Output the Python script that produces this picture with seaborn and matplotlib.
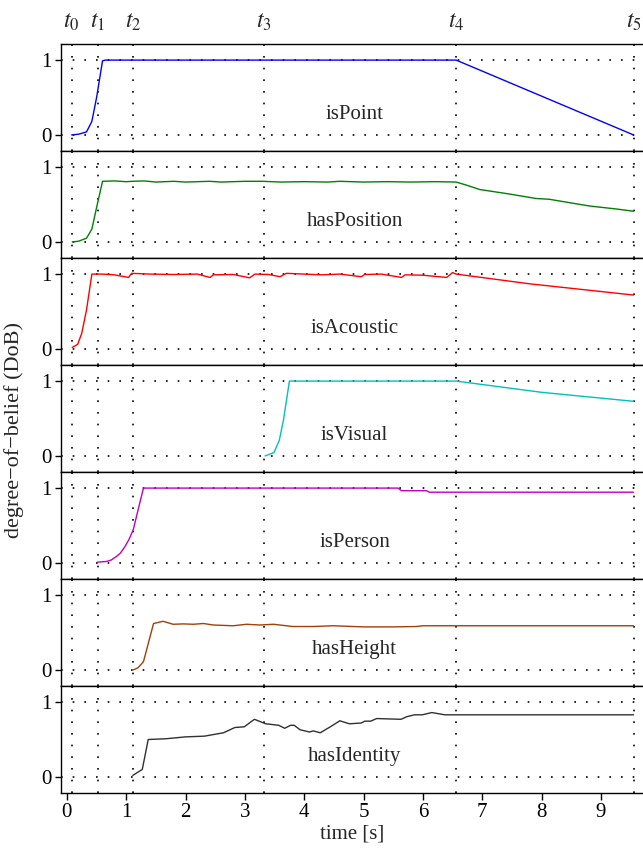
import numpy as np
import pandas as pd
import matplotlib
matplotlib.use("Agg")
import matplotlib.pyplot as plt
import matplotlib.transforms as mtransforms
import seaborn as sns

# ---------------- data ----------------
t_marks = [0.08, 0.52, 1.11, 3.32, 6.56, 9.55]
t_labels = ["$t_0$", "$t_1$", "$t_2$", "$t_3$", "$t_4$", "$t_5$"]

names = ["isPoint", "hasPosition", "isAcoustic", "isVisual", "isPerson", "hasHeight", "hasIdentity"]
colors = ["#0000ff", "#008000", "#ff0000", "#00c0c0", "#c000c0", "#a0400a", "#303030"]

point_x = [0.08, 0.2, 0.33, 0.42, 0.5, 0.6, 0.65, 6.56, 9.55]
point_y = [0.0, 0.01, 0.04, 0.18, 0.5, 0.99, 1.0, 1.0, 0.0]

position_x = [0.09, 0.2, 0.33, 0.42, 0.5, 0.6, 0.8, 1.0, 1.1, 1.3, 1.5, 1.8, 2.0, 2.4, 2.6, 3.0,
              3.3, 3.6, 4.0, 4.4, 4.6, 5.0, 5.4, 5.8, 6.2, 6.56, 6.73, 6.96, 7.46, 7.91, 8.13,
              8.58, 8.81, 9.26, 9.55]
position_y = [0.0, 0.01, 0.05, 0.17, 0.46, 0.81, 0.815, 0.805, 0.81, 0.815, 0.80, 0.81, 0.80,
              0.81, 0.80, 0.81, 0.81, 0.80, 0.805, 0.80, 0.81, 0.80, 0.805, 0.80, 0.805, 0.80,
              0.76, 0.70, 0.64, 0.58, 0.57, 0.51, 0.48, 0.44, 0.41]

acoustic_x = [0.09, 0.18, 0.25, 0.33, 0.42, 0.6, 0.8, 1.04, 1.09, 1.4, 1.8, 2.2, 2.41, 2.47, 2.8,
              3.08, 3.17, 3.4, 3.59, 3.7, 4.0, 4.3, 4.6, 4.96, 5.02, 5.3, 5.64, 5.7, 6.0, 6.4,
              6.5, 6.56, 7.8, 9.55]
acoustic_y = [0.02, 0.06, 0.21, 0.52, 1.0, 1.0, 0.99, 0.955, 1.01, 1.0, 0.995, 1.0, 0.955, 0.99,
              0.995, 0.95, 1.0, 0.995, 0.965, 1.01, 1.0, 0.99, 1.0, 0.965, 0.995, 1.0, 0.955,
              0.99, 0.985, 0.955, 1.02, 1.0, 0.87, 0.72]

visual_x = [3.34, 3.49, 3.58, 3.65, 3.75, 6.56, 8.0, 9.55]
visual_y = [0.0, 0.045, 0.21, 0.48, 1.0, 1.0, 0.85, 0.73]

person_x = [0.515, 0.67, 0.75, 0.84, 0.9, 0.98, 1.05, 1.12, 1.2, 1.29, 5.58, 5.64, 6.06, 6.11, 9.55]
person_y = [0.01, 0.02, 0.04, 0.09, 0.13, 0.22, 0.32, 0.45, 0.71, 1.0, 1.0, 0.965, 0.965, 0.945, 0.945]

height_x = [1.12, 1.2, 1.29, 1.46, 1.62, 1.79, 1.96, 2.13, 2.3, 2.47, 2.8, 3.03, 3.25, 3.48,
            3.81, 4.15, 4.49, 5.0, 5.5, 5.89, 6.0, 9.55]
height_y = [0.0, 0.03, 0.11, 0.62, 0.65, 0.61, 0.615, 0.61, 0.62, 0.60, 0.59, 0.61, 0.60, 0.61,
            0.58, 0.58, 0.59, 0.575, 0.575, 0.58, 0.59, 0.59]

identity_x = [1.11, 1.27, 1.37, 1.67, 2.0, 2.32, 2.64, 2.83, 2.99, 3.16, 3.35, 3.57, 3.67, 3.77,
              3.83, 3.93, 4.09, 4.15, 4.27, 4.44, 4.6, 4.76, 4.96, 5.02, 5.12, 5.22, 5.63, 5.73,
              5.86, 5.99, 6.15, 6.37, 6.56, 9.55]
identity_y = [0.02, 0.1, 0.5, 0.51, 0.535, 0.545, 0.59, 0.66, 0.67, 0.77, 0.71, 0.69, 0.65, 0.69,
              0.69, 0.63, 0.6, 0.615, 0.59, 0.67, 0.75, 0.71, 0.72, 0.745, 0.745, 0.78, 0.77,
              0.805, 0.83, 0.83, 0.86, 0.83, 0.83, 0.83]

series = [(point_x, point_y), (position_x, position_y), (acoustic_x, acoustic_y),
          (visual_x, visual_y), (person_x, person_y), (height_x, height_y),
          (identity_x, identity_y)]

x_ticks = list(range(10))
y_ticks = [0, 1]

# ---------------- style ----------------
sns.set_theme(style="white")
plt.rcParams["font.family"] = ["Liberation Serif", "DejaVu Serif"]
plt.rcParams["mathtext.fontset"] = "stix"
plt.rcParams["axes.linewidth"] = 1.0

fig = plt.figure(figsize=(6.43, 8.5), dpi=100)
left, right, bottom, top = 61 / 643, 1.0, 1 - 793 / 850, 1 - 44 / 850
n = len(names)
h = (top - bottom) / n
axes = []
for i in range(n):
    ax = fig.add_axes([left, top - (i + 1) * h, right - left, h],
                      sharex=axes[0] if axes else None)
    axes.append(ax)

dot = (0, (1, 6))
for i, ax in enumerate(axes):
    xs, ys = series[i]
    df = pd.DataFrame({"time": xs, "DoB": ys})
    sns.lineplot(data=df, x="time", y="DoB", ax=ax, color=colors[i], lw=1.0,
                 estimator=None, sort=False, zorder=3)
    for yv in y_ticks:
        ax.axhline(yv, color="black", lw=1.2, linestyle=dot, zorder=1)
    for tv in t_marks:
        ax.axvline(tv, color="black", lw=1.2, linestyle=dot, zorder=1)
    ax.set_xlim(-0.1, 9.71)
    ax.set_ylim(-0.215, 1.215)
    ax.set_yticks(y_ticks)
    ax.set_yticklabels([str(v) for v in y_ticks], fontsize=15)
    ax.set_xlabel("")
    ax.set_ylabel("")
    ax.spines["right"].set_visible(False)
    for s in ["left", "top", "bottom"]:
        ax.spines[s].set_color("black")
    ax.tick_params(axis="y", which="major", direction="out", length=4, width=1,
                   left=True, right=False, pad=3, colors="black")
    ax.text(4.85, 0.27, names[i], fontsize=15, ha="center", va="center", zorder=4)
    if i < n - 1:
        ax.tick_params(axis="x", bottom=False, labelbottom=False)
    else:
        ax.set_xticks(x_ticks)
        ax.set_xticklabels([str(v) for v in x_ticks], fontsize=15)
        ax.tick_params(axis="x", direction="out", length=5, width=1, bottom=True,
                       pad=2, colors="black")
        ax.set_xlabel("time [s]", fontsize=15, labelpad=2)
    ax.grid(False)

trans = mtransforms.blended_transform_factory(axes[0].transData, axes[0].transAxes)
for tv, tl in zip(t_marks, t_labels):
    axes[0].text(tv, 1.1, tl, transform=trans, fontsize=17, ha="center", va="bottom")

fig.text(0.022, 1 - 430 / 850, "degree\u2212of\u2212belief (DoB)", rotation=90,
         fontsize=16, ha="center", va="center")

fig.savefig("out.png", dpi=100)
